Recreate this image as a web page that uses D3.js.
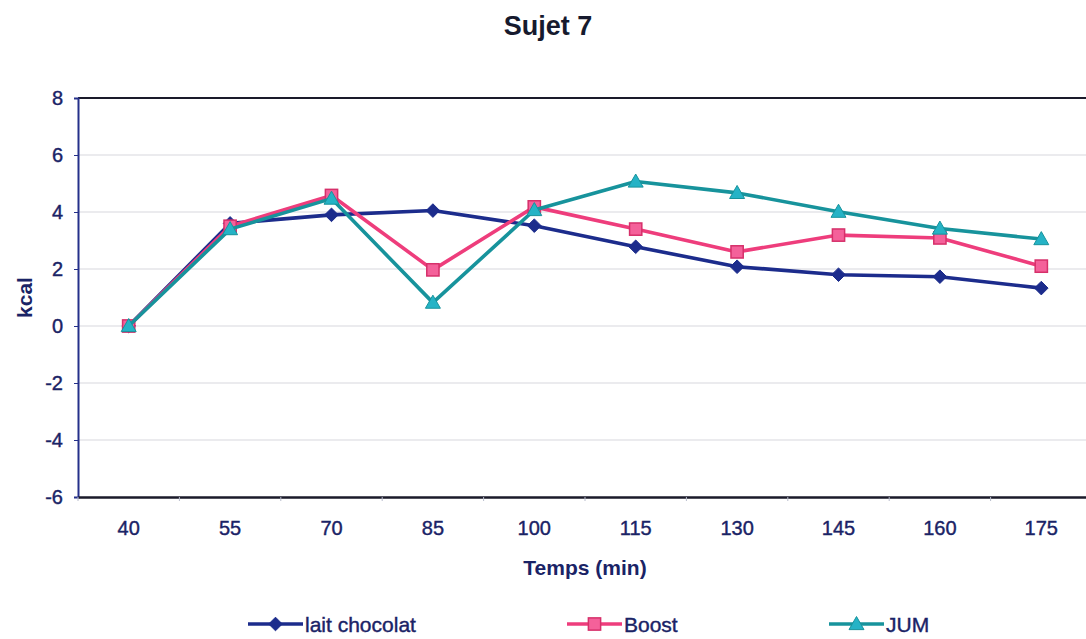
<!DOCTYPE html>
<html>
<head>
<meta charset="utf-8">
<script src="https://cdn.jsdelivr.net/npm/d3@7"></script>
<style>
  html, body { margin: 0; padding: 0; background: #fff; }
  svg { display: block; font-family: "Liberation Sans", Arial, sans-serif; }
</style>
</head>
<body>
<svg id="chart" width="1086" height="639"></svg>
<script>
// Time points (minutes)
const categories = ["40", "55", "70", "85", "100", "115", "130", "145", "160", "175"];

// Energy (kcal) per drink
const laitChocolat = [0, 3.6, 3.9, 4.05, 3.52, 2.78, 2.08, 1.8, 1.73, 1.33];
const boost        = [0, 3.5, 4.58, 1.97, 4.18, 3.4, 2.6, 3.19, 3.09, 2.1];
const jum          = [0, 3.4, 4.47, 0.82, 4.07, 5.07, 4.67, 4.01, 3.42, 3.05];

const yTicks = [-6, -4, -2, 0, 2, 4, 6, 8];

const seriesNames = ["lait chocolat", "Boost", "JUM"];

const series = [
  { name: seriesNames[0], values: laitChocolat, color: "#1c2c8c", fill: "#1c2c8c", stroke: "#1c2c8c", shape: "diamond" },
  { name: seriesNames[1], values: boost,        color: "#ee3d7c", fill: "#f4619a", stroke: "#d6306a", shape: "square" },
  { name: seriesNames[2], values: jum,          color: "#17939c", fill: "#25b3c6", stroke: "#17939c", shape: "triangle" }
];

const svg = d3.select("#chart");
const plotLeft = 78, plotRight = 1092, plotTop = 98, plotBottom = 497;
const textColor = "#1a2366";

const x = d3.scaleBand().domain(categories).range([plotLeft, plotRight]);
const y = d3.scaleLinear().domain([-6, 8]).range([plotBottom, plotTop]);

// Horizontal gridlines
svg.append("g")
  .selectAll("line")
  .data(yTicks.filter(t => t > -6 && t < 8))
  .join("line")
  .attr("x1", plotLeft).attr("x2", plotRight)
  .attr("y1", d => y(d)).attr("y2", d => y(d))
  .attr("stroke", "#e4e4e8").attr("stroke-width", 1.5);

// Top border
svg.append("line")
  .attr("x1", plotLeft).attr("x2", plotRight)
  .attr("y1", plotTop).attr("y2", plotTop)
  .attr("stroke", "#1a1a2a").attr("stroke-width", 2);

// Y axis
const yAxis = svg.append("g")
  .attr("transform", `translate(${plotLeft},0)`)
  .call(d3.axisLeft(y).tickValues(yTicks).tickSize(4).tickPadding(11).tickFormat(d => String(d)));
yAxis.select(".domain").attr("stroke", "#25308a").attr("stroke-width", 2);
yAxis.selectAll(".tick line").attr("stroke", "#25308a");
yAxis.selectAll("text")
  .attr("fill", textColor)
  .attr("stroke", textColor).attr("stroke-width", 0.4)
  .style("font-size", "20px");

// X axis
const xAxis = svg.append("g")
  .attr("transform", `translate(0,${plotBottom})`)
  .call(d3.axisBottom(x).tickSize(0).tickPadding(24));
xAxis.select(".domain").attr("stroke", "#1a1a2a").attr("stroke-width", 2.5);
xAxis.selectAll("text")
  .attr("fill", textColor)
  .attr("stroke", textColor).attr("stroke-width", 0.4)
  .style("font-size", "20px");
// category boundary ticks
xAxis.append("g")
  .selectAll("line")
  .data(categories)
  .join("line")
  .attr("x1", d => x(d)).attr("x2", d => x(d))
  .attr("y1", 0).attr("y2", 4)
  .attr("stroke", "#b8bccc").attr("stroke-width", 1);

// Marker drawing
function marker(g, shape, fill, stroke, size) {
  if (shape === "diamond") {
    const s = size * 0.8;
    g.append("path").attr("d", `M0,${-s}L${s},0L0,${s}L${-s},0Z`)
      .attr("fill", fill).attr("stroke", stroke).attr("stroke-width", 1);
  } else if (shape === "square") {
    const s = size * 0.72;
    g.append("rect").attr("x", -s).attr("y", -s).attr("width", 2 * s).attr("height", 2 * s)
      .attr("fill", fill).attr("stroke", stroke).attr("stroke-width", 1.5);
  } else {
    const s = size * 0.88;
    g.append("path").attr("d", `M0,${-s}L${s},${s * 0.75}L${-s},${s * 0.75}Z`)
      .attr("fill", fill).attr("stroke", stroke).attr("stroke-width", 1);
  }
}

const line = d3.line()
  .x((d, i) => x(categories[i]) + x.bandwidth() / 2)
  .y(d => y(d));

series.forEach(s => {
  const g = svg.append("g");
  g.append("path")
    .datum(s.values)
    .attr("d", line)
    .attr("fill", "none")
    .attr("stroke", s.color)
    .attr("stroke-width", 3.6)
    .attr("stroke-linejoin", "round");
  s.values.forEach((v, i) => {
    const m = g.append("g")
      .attr("transform", `translate(${x(categories[i]) + x.bandwidth() / 2},${y(v)})`);
    marker(m, s.shape, s.fill, s.stroke, 8.5);
  });
});

// Title
svg.append("text")
  .attr("x", 548).attr("y", 35)
  .attr("text-anchor", "middle")
  .attr("fill", "#161a2e")
  .style("font-size", "27px").style("font-weight", "bold")
  .text("Sujet 7");

// Axis titles
svg.append("text")
  .attr("x", (plotLeft + plotRight) / 2).attr("y", 575)
  .attr("text-anchor", "middle")
  .attr("fill", textColor)
  .style("font-size", "21px").style("font-weight", "bold")
  .text("Temps (min)");

svg.append("text")
  .attr("transform", `translate(32,${(plotTop + plotBottom) / 2}) rotate(-90)`)
  .attr("text-anchor", "middle")
  .attr("fill", textColor)
  .style("font-size", "21px").style("font-weight", "bold")
  .text("kcal");

// Legend
const legendX = [248, 567, 829];
series.forEach((s, i) => {
  const g = svg.append("g").attr("transform", `translate(${legendX[i]},624)`);
  g.append("line").attr("x1", 0).attr("x2", 55).attr("y1", 0).attr("y2", 0)
    .attr("stroke", s.color).attr("stroke-width", 3.6);
  const m = g.append("g").attr("transform", "translate(27.5,0)");
  marker(m, s.shape, s.fill, s.stroke, 8.5);
  g.append("text").attr("x", 57).attr("y", 8)
    .attr("fill", textColor)
    .attr("stroke", textColor).attr("stroke-width", 0.4)
    .style("font-size", "21px")
    .text(s.name);
});
</script>
</body>
</html>
